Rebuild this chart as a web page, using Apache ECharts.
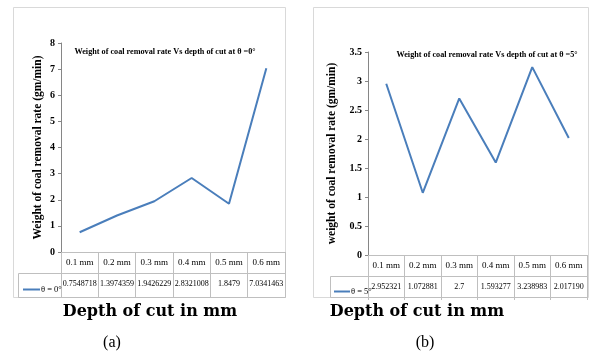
<!DOCTYPE html>
<html>
<head>
<meta charset="UTF-8">
<title>Weight of coal removal rate</title>
<script src="https://cdn.jsdelivr.net/npm/echarts@6/dist/echarts.min.js"></script>
<style>
  html, body { margin: 0; padding: 0; background: #fff; }
  #main { width: 592px; height: 358px; }
</style>
</head>
<body>
<div id="main"></div>
<script>
// depth of cut categories
var depths = ['0.1 mm', '0.2 mm', '0.3 mm', '0.4 mm', '0.5 mm', '0.6 mm'];
// theta = 0 deg
var rateA = [0.7548718, 1.3974359, 1.9426229, 2.8321008, 1.8479, 7.0341463];
var rateALabels = ['0.7548718', '1.3974359', '1.9426229', '2.8321008', '1.8479', '7.0341463'];
// theta = 5 deg
var rateB = [2.952321, 1.072881, 2.7, 1.593277, 3.238983, 2.017190];
var rateBLabels = ['2.952321', '1.072881', '2.7', '1.593277', '3.238983', '2.017190'];

var serif = '"Liberation Serif", "DejaVu Serif", serif';
var blue = '#4A7EBB';
var gridGrey = '#bfbfbf';
var axisGrey = '#868686';

function tableAxes(gi, labels) {
  return [{
    type: 'category', gridIndex: gi, data: depths,
    axisLine: { lineStyle: { color: gridGrey } },
    axisTick: { show: true, length: 45, lineStyle: { color: gridGrey } },
    axisLabel: { interval: 0, margin: 6, fontFamily: serif, fontSize: 9, color: '#000' }
  }, {
    type: 'category', gridIndex: gi, data: depths, position: 'bottom', offset: 21,
    axisLine: { lineStyle: { color: gridGrey } },
    axisTick: { show: false },
    axisLabel: {
      interval: 0, margin: 7, fontFamily: serif, fontSize: 8, color: '#000',
      formatter: function (v, i) { return labels[i]; }
    }
  }];
}

function valueAxis(gi, max, step, name, gap) {
  return {
    type: 'value', gridIndex: gi, min: 0, max: max, interval: step,
    name: name, nameLocation: 'middle', nameGap: gap,
    nameTextStyle: { fontFamily: serif, fontWeight: 'bold', fontSize: 11.5, color: '#000' },
    axisLine: { show: true, lineStyle: { color: axisGrey } },
    axisTick: { show: true, length: 3, lineStyle: { color: axisGrey } },
    splitLine: { show: false },
    axisLabel: { margin: 6, fontFamily: serif, fontWeight: 'bold', fontSize: 10, color: '#000' }
  };
}

var chart = echarts.init(document.getElementById('main'));
var option = {
  backgroundColor: '#fff',
  animation: false,
  title: [{
    text: 'Weight of coal removal rate Vs depth of cut at θ =0°',
    left: 160, top: 43, textAlign: 'center',
    textStyle: { fontFamily: serif, fontWeight: 'bold', fontSize: 8.2, color: '#000' }
  }, {
    text: 'Weight of coal removal rate Vs depth of cut at θ =5°',
    left: 482, top: 46, textAlign: 'center',
    textStyle: { fontFamily: serif, fontWeight: 'bold', fontSize: 8.2, color: '#000' }
  }],
  legend: [{
    data: ['θ = 0°'], left: 18, top: 280, icon: 'rect', itemWidth: 17, itemHeight: 2, itemGap: 2,
    textStyle: { fontFamily: serif, fontSize: 8.5, color: '#000', padding: [0, 0, 0, -4] }
  }, {
    data: ['θ = 5°'], left: 329, top: 282, icon: 'rect', itemWidth: 16, itemHeight: 2, itemGap: 2,
    textStyle: { fontFamily: serif, fontSize: 8.5, color: '#000', padding: [0, 0, 0, -4] }
  }],
  grid: [
    { left: 61, right: 307, top: 43, bottom: 106 },
    { left: 368, right: 5, top: 52, bottom: 103 }
  ],
  xAxis: tableAxes(0, rateALabels).concat(tableAxes(1, rateBLabels)),
  yAxis: [
    valueAxis(0, 8, 1, 'Weight of coal removal rate (gm/min)', 17),
    valueAxis(1, 3.5, 0.5, 'weight of coal removal rate (gm/min)', 30)
  ],
  series: [{
    name: 'θ = 0°', type: 'line', xAxisIndex: 0, yAxisIndex: 0,
    data: rateA, symbol: 'none', color: blue, lineStyle: { width: 2 }
  }, {
    name: 'θ = 5°', type: 'line', xAxisIndex: 2, yAxisIndex: 1,
    data: rateB, symbol: 'none', color: blue, lineStyle: { width: 2 }
  }],
  graphic: [
    // chart frames
    { type: 'rect', shape: { x: 13.5, y: 7.5, width: 272, height: 290 }, style: { fill: 'none', stroke: '#d9d9d9' }, silent: true },
    { type: 'rect', shape: { x: 313.5, y: 7.5, width: 275, height: 290 }, style: { fill: 'none', stroke: '#d9d9d9' }, silent: true },
    // legend rows of the data tables
    { type: 'rect', shape: { x: 18.5, y: 273.5, width: 267, height: 24 }, style: { fill: 'none', stroke: gridGrey }, silent: true },
    { type: 'rect', shape: { x: 330.5, y: 276.5, width: 257, height: 21 }, style: { fill: 'none', stroke: gridGrey }, silent: true },
    // axis captions
    { type: 'text', x: 150, y: 312, style: { text: 'Depth of cut in mm', align: 'center', verticalAlign: 'middle', font: 'bold 16px "DejaVu Serif", serif', fill: '#000' } },
    { type: 'text', x: 417, y: 312, style: { text: 'Depth of cut in mm', align: 'center', verticalAlign: 'middle', font: 'bold 16px "DejaVu Serif", serif', fill: '#000' } },
    { type: 'text', x: 112, y: 343, style: { text: '(a)', align: 'center', verticalAlign: 'middle', font: '16px "Liberation Serif", serif', fill: '#000' } },
    { type: 'text', x: 425, y: 343, style: { text: '(b)', align: 'center', verticalAlign: 'middle', font: '16px "Liberation Serif", serif', fill: '#000' } }
  ]
};
chart.setOption(option);
</script>
</body>
</html>
